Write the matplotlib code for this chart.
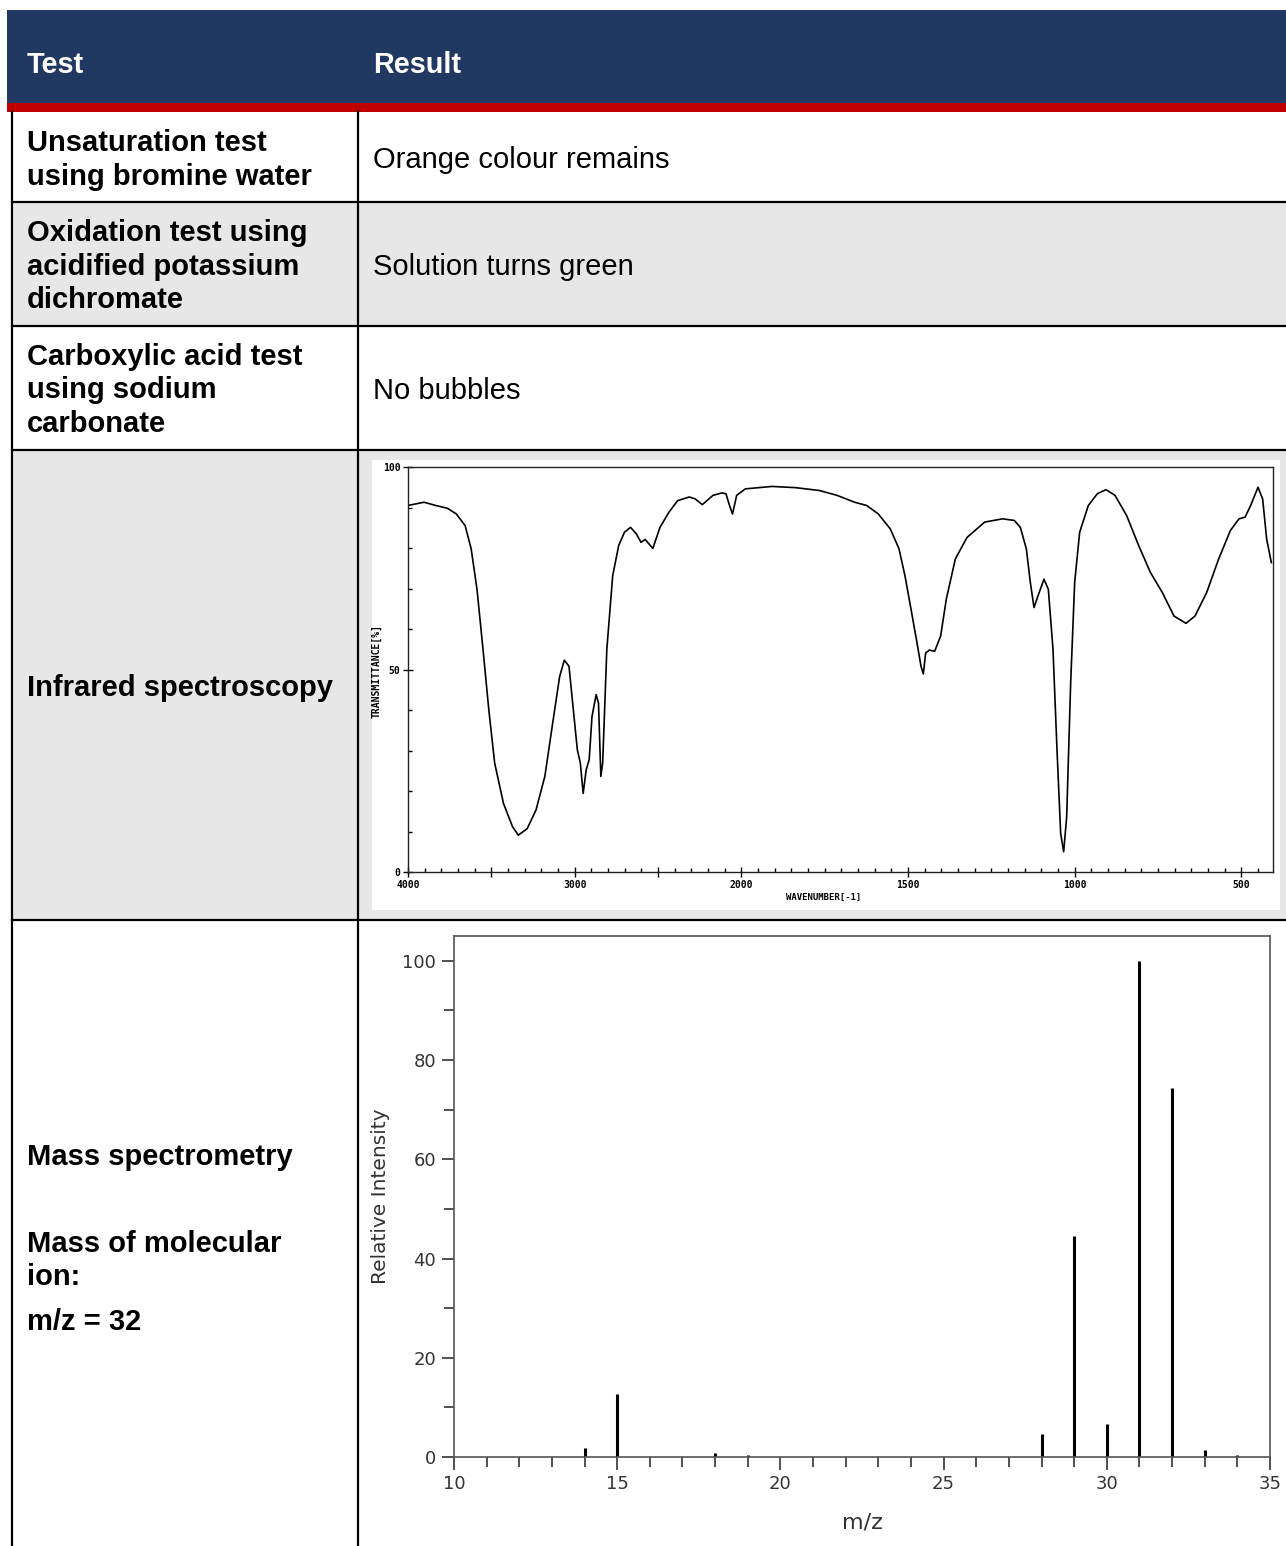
import numpy as np
import matplotlib
matplotlib.use('Agg')
import matplotlib.pyplot as plt
from matplotlib.patches import Rectangle
from matplotlib.ticker import FixedLocator, MultipleLocator

W, H = 1286, 1546

# table text
header = ['Test', 'Result']
tests = [
    ['Unsaturation test', 'using bromine water'],
    ['Oxidation test using', 'acidified potassium', 'dichromate'],
    ['Carboxylic acid test', 'using sodium', 'carbonate'],
    ['Infrared spectroscopy'],
    ['Mass spectrometry', 'Mass of molecular', 'ion:', 'm/z = 32'],
]
results = ['Orange colour remains', 'Solution turns green', 'No bubbles']

# IR spectrum (wavenumber / cm-1, transmittance / %)
ir_wn = [4000, 3904, 3834, 3763, 3710, 3657, 3621, 3586, 3550, 3515, 3480, 3427,
         3373, 3338, 3285, 3232, 3179, 3126, 3090, 3062, 3034, 3012, 2984, 2966,
         2949, 2931, 2913, 2896, 2871, 2857, 2843, 2832, 2807, 2772, 2736, 2701,
         2665, 2630, 2602, 2577, 2531, 2488, 2435, 2382, 2312, 2276, 2234, 2170,
         2117, 2092, 2071, 2053, 2028, 1988, 1908, 1837, 1766, 1713, 1660, 1624,
         1589, 1553, 1527, 1509, 1491, 1473, 1461, 1454, 1447, 1436, 1420, 1402,
         1385, 1358, 1323, 1270, 1216, 1181, 1163, 1145, 1133, 1122, 1110, 1092,
         1079, 1065, 1053, 1042, 1033, 1024, 1012, 1000, 985, 959, 932, 906, 879,
         844, 808, 773, 737, 702, 666, 639, 604, 568, 533, 507, 489, 472, 450,
         436, 424, 410]
ir_t = [90.5, 91.3, 90.5, 89.8, 88.4, 85.5, 79.8, 69.8, 55.0, 40.0, 26.9, 16.9,
        11.2, 9.1, 10.7, 15.3, 23.6, 38.4, 48.3, 52.3, 50.8, 41.7, 30.2, 26.9,
        19.4, 25.2, 27.7, 38.4, 43.8, 41.7, 23.6, 26.9, 55.0, 73.1, 80.6, 83.9,
        85.1, 83.5, 81.4, 82.1, 79.9, 85.1, 88.8, 91.7, 92.6, 92.1, 90.7, 93.0,
        93.6, 93.4, 90.5, 88.4, 93.0, 94.6, 95.2, 94.9, 94.2, 93.0, 91.3, 90.5,
        88.4, 84.7, 79.8, 73.1, 64.9, 56.6, 50.8, 48.9, 54.1, 54.8, 54.5, 58.3,
        67.4, 77.3, 82.6, 86.4, 87.2, 86.8, 85.1, 79.8, 71.5, 65.3, 68.2, 72.3,
        69.8, 55.0, 30.2, 9.5, 5.0, 13.6, 46.7, 71.5, 83.9, 90.5, 93.4, 94.4, 93.0,
        88.0, 80.6, 74.0, 69.0, 63.2, 61.4, 63.2, 69.0, 77.3, 84.3, 87.2, 87.6, 90.5, 95.0,
        92.1, 82.2, 76.4]
ir_major = [4000, 3500, 3000, 2500, 2000, 1500, 1000, 500]
ir_major_labels = ['4000', '', '3000', '', '2000', '1500', '1000', '500']

# mass spectrum
ms_mz = [14, 15, 18, 19, 28, 29, 30, 31, 32, 33, 34]
ms_int = [1.8, 12.6, 0.8, 0.4, 4.7, 44.5, 6.6, 100, 74.4, 1.5, 0.4]

navy = '#213863'
red = '#C00000'
grey = '#E7E7E7'

fig = plt.figure(figsize=(W / 100, H / 100), dpi=100)
bg = fig.add_axes([0, 0, 1, 1])
bg.set_xlim(0, W)
bg.set_ylim(H, 0)
bg.axis('off')

# header
bg.add_patch(Rectangle((7, 10), W - 7, 94, color=navy, lw=0))
bg.add_patch(Rectangle((7, 103), W - 7, 9, color=red, lw=0))
bg.text(27, 73, header[0], color='white', fontsize=20.8, fontweight='bold',
        family='Liberation Sans', va='baseline')
bg.text(373, 73, header[1], color='white', fontsize=20.8, fontweight='bold',
        family='Liberation Sans', va='baseline')

# rows
row_edges = [112, 202, 326, 450, 920, H]
row_fill = ['white', grey, 'white', grey, 'white']
for i, c in enumerate(row_fill):
    bg.add_patch(Rectangle((12, row_edges[i]), W - 12, row_edges[i + 1] - row_edges[i],
                           color=c, lw=0))
for y in row_edges[1:-1]:
    bg.plot([12, W], [y, y], color='black', lw=1.6)
for x in [12, 358]:
    bg.plot([x, x], [112, H], color='black', lw=1.6)

# IR picture background
bg.add_patch(Rectangle((372, 460), 908, 450, color='white', lw=0))

baselines = [
    [151, 185],
    [241, 275, 308],
    [365, 398, 432],
    [696],
    [1165, 1252, 1285, 1330],
]
for lines, ys in zip(tests, baselines):
    for line, yb in zip(lines, ys):
        bg.text(27, yb, line, fontsize=21, fontweight='bold',
                family='Liberation Sans', va='baseline', color='black')

for txt, yb in zip(results, [168, 275, 399]):
    bg.text(373, yb, txt, fontsize=21, family='Liberation Sans', va='baseline',
            color='black')


def px_axes(left, top, right, bottom):
    return fig.add_axes([left / W, 1 - bottom / H, (right - left) / W, (bottom - top) / H])


# ---------- IR spectrum ----------
def fwd(x):
    x = np.asarray(x, float)
    return np.where(x >= 2000, x, 2 * x - 2000)


def inv(u):
    u = np.asarray(u, float)
    return np.where(u >= 2000, u, (u + 2000) / 2)


ir = px_axes(408, 467, 1273, 872)
ir.set_xscale('function', functions=(fwd, inv))
ir.plot(ir_wn, ir_t, color='black', lw=1.2)
ir.set_xlim(4000, 405)
ir.set_ylim(0, 100)
ir.xaxis.set_major_locator(FixedLocator(ir_major))
ir.set_xticklabels(ir_major_labels)
ir.xaxis.set_minor_locator(FixedLocator(list(range(3900, 2000, -100)) + list(range(1950, 400, -50))))
ir.yaxis.set_major_locator(FixedLocator([0, 50, 100]))
ir.yaxis.set_minor_locator(MultipleLocator(10))
for sp in ir.spines.values():
    sp.set_linewidth(1.0)
    sp.set_color('#222222')
ir.tick_params(axis='both', which='major', direction='inout', length=7, width=1,
               labelsize=7, pad=2)
ir.tick_params(axis='both', which='minor', direction='in', length=3, width=1)
for lab in ir.get_xticklabels() + ir.get_yticklabels():
    lab.set_family('DejaVu Sans Mono')
    lab.set_fontweight('bold')
bg.text(376, 671, 'TRANSMITTANCE[%]', rotation=90, fontsize=7, family='DejaVu Sans Mono',
        fontweight='bold', ha='center', va='center')
bg.text(824, 897, 'WAVENUMBER[-1]', fontsize=6.5, family='DejaVu Sans Mono',
        fontweight='bold', ha='center', va='center')

# ---------- mass spectrum ----------
ms = px_axes(454, 936, 1270, 1457)
ms.vlines(ms_mz, 0, ms_int, color='black', lw=2.2)
ms.set_xlim(10, 35)
ms.set_ylim(0, 105)
ms.xaxis.set_major_locator(MultipleLocator(5))
ms.xaxis.set_minor_locator(MultipleLocator(1))
ms.yaxis.set_major_locator(MultipleLocator(20))
ms.yaxis.set_minor_locator(MultipleLocator(10))
for sp in ms.spines.values():
    sp.set_linewidth(1.2)
    sp.set_color('#555555')
ms.tick_params(axis='both', which='major', direction='out', length=9, width=1.2,
               color='#333333', labelsize=13, labelcolor='#333333', pad=4)
ms.tick_params(axis='both', which='minor', direction='out', length=7, width=1.2,
               color='#333333')
ms.set_ylabel('Relative Intensity', fontsize=14.5, color='#333333', labelpad=9)
ms.set_xlabel('m/z', fontsize=16, color='#333333', labelpad=14)

fig.savefig('out.png', dpi=100)
